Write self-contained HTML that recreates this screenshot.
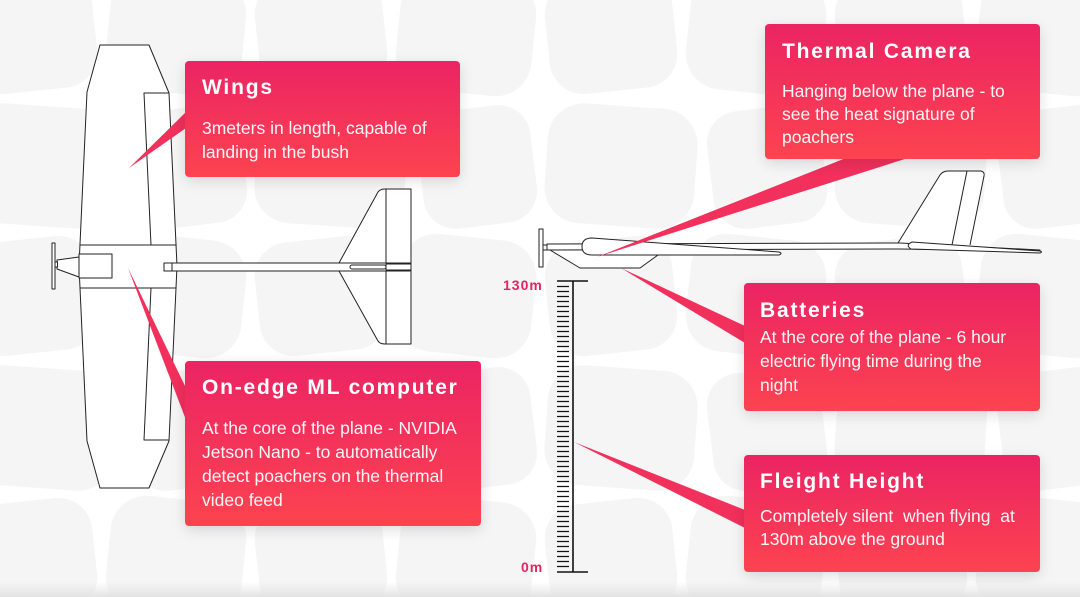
<!DOCTYPE html>
<html><head><meta charset="utf-8"><style>
html,body{margin:0;padding:0;}
body{width:1080px;height:597px;position:relative;overflow:hidden;background:#fff;font-family:"Liberation Sans",Arial,sans-serif;}
svg{position:absolute;left:0;top:0;}
.box{position:absolute;border-radius:4px;background:linear-gradient(to bottom,#eb2463,#fd4350);box-shadow:0 4px 14px rgba(0,0,0,0.13);color:#fff;}
.t{position:absolute;font-weight:bold;font-size:21px;line-height:24px;letter-spacing:1.8px;white-space:nowrap;}
.b{position:absolute;font-size:17.5px;line-height:24px;white-space:nowrap;color:#fff5f6;}
.lbl{position:absolute;font-weight:bold;font-size:14px;letter-spacing:1px;color:#e6245f;line-height:14px;}
</style></head><body>
<svg width="1080" height="597" viewBox="0 0 1080 597">
<defs>
<pattern id="g" width="290" height="262" patternUnits="userSpaceOnUse" x="-40" y="-30">
<rect width="290" height="262" fill="#fff"/>
<rect x="7" y="7" width="128" height="114" rx="34" fill="#f5f5f6" transform="rotate(-6 71 64)"/>
<rect x="148" y="5" width="136" height="118" rx="36" fill="#f5f5f6" transform="rotate(6 216 64)"/>
<rect x="6" y="136" width="150" height="120" rx="36" fill="#f5f5f6" transform="rotate(4 81 196)"/>
<rect x="170" y="138" width="114" height="118" rx="32" fill="#f5f5f6" transform="rotate(-7 227 197)"/>
</pattern>
<linearGradient id="bot" x1="0" y1="0" x2="0" y2="1"><stop offset="0" stop-color="#e6e6e6" stop-opacity="0"/><stop offset="1" stop-color="#e2e2e2"/></linearGradient>
</defs>
<rect width="1080" height="597" fill="url(#g)"/>
<rect y="582" width="1080" height="15" fill="url(#bot)"/>

<!-- top view plane -->
<g stroke="#222" stroke-width="1" fill="#fff" stroke-linejoin="round">
<polygon points="100,45 149,45 169,93 177,266 169,441 149,488 100,488 87,441 79,266 87,92"/>
<polyline points="169,93 144,93 151,245" fill="none"/>
<polyline points="151,288 144,440 169,440" fill="none"/>
<line x1="79.6" y1="245" x2="176.6" y2="245"/>
<line x1="79.6" y1="288" x2="176.6" y2="288"/>
<rect x="79" y="254" width="33" height="24"/>
<polygon points="79,257 57,260 57,269 79,277"/>
<rect x="55" y="262" width="2.5" height="5"/>
<rect x="52" y="243" width="3" height="46"/>
<path d="M339,263 L378,192 Q380,189 385,189 L411,189 L411,344 L385,344 Q380,344 378,341 L339,271 Z"/>
<line x1="386" y1="189" x2="386" y2="344"/>
<rect x="164" y="263" width="246" height="8"/>
<line x1="172" y1="263" x2="172" y2="271"/>
<rect x="350" y="265" width="36" height="4" rx="2"/>
<rect x="386" y="264" width="25" height="6"/>
</g>

<!-- side view plane -->
<g stroke="#222" stroke-width="1" fill="#fff" stroke-linejoin="round">
<path d="M898,243 L940,175 Q943,171 948,171 L981,171 Q985,172 984,176 L970,245"/>
<line x1="967" y1="171" x2="952" y2="245"/>
<path d="M550,250 L580,268 L640,268 L658,255"/>
<path d="M547,244 L900,243 L1040,250 L1040,251 L900,249 L547,250 Z"/>
<path d="M912,242 Q905,245 911,249 L1040,253 Q1043,252 1040,251 Z"/>
<path d="M592,238 Q582,238 582,246.5 Q582,255 592,255 L779,255 Q783,253.5 779,252 Z"/>
<rect x="543" y="245" width="4" height="5"/>
<rect x="539" y="229" width="4" height="38"/>
</g>

<!-- ruler -->
<g stroke="#111" fill="none">
<line x1="573" y1="281" x2="573" y2="572" stroke-width="1.6"/>
<line x1="557" y1="281" x2="588" y2="281" stroke-width="1.6"/>
<line x1="557" y1="572" x2="588" y2="572" stroke-width="1.6"/>
<path stroke-width="1.3" d="M557,286.5h12M557,291.5h12M557,296.5h12M557,301.5h12M557,306.5h12M557,311.5h12M557,316.5h12M557,321.5h12M557,326.5h12M557,331.5h12M557,336.5h12M557,341.5h12M557,346.5h12M557,351.5h12M557,356.5h12M557,361.5h12M557,366.5h12M557,371.5h12M557,376.5h12M557,381.5h12M557,386.5h12M557,391.5h12M557,396.5h12M557,401.5h12M557,406.5h12M557,411.5h12M557,416.5h12M557,421.5h12M557,426.5h12M557,431.5h12M557,436.5h12M557,441.5h12M557,446.5h12M557,451.5h12M557,456.5h12M557,461.5h12M557,466.5h12M557,471.5h12M557,476.5h12M557,481.5h12M557,486.5h12M557,491.5h12M557,496.5h12M557,501.5h12M557,506.5h12M557,511.5h12M557,516.5h12M557,521.5h12M557,526.5h12M557,531.5h12M557,536.5h12M557,541.5h12M557,546.5h12M557,551.5h12M557,556.5h12M557,561.5h12M557,566.5h12"/>
</g>

<!-- pointers -->
<g fill="#f1305c">
<polygon points="129,168 186,112 186,128"/>
<polygon points="128,268 186,388 186,420"/>
<polygon points="597,257 846,158 908,158"/>
<polygon points="621,268 745,326 745,343"/>
<polygon points="574,442 745,510 745,528"/>
</g>
</svg>

<div class="lbl" style="left:503px;top:278px;">130m</div>
<div class="lbl" style="left:521px;top:560px;">0m</div>

<div class="box" style="left:185px;top:61px;width:275px;height:116px;">
<div class="t" style="left:17px;top:15px;">Wings</div>
<div class="b" style="left:17px;top:55px;">3meters in length, capable of<br>landing in the bush</div>
</div>

<div class="box" style="left:185px;top:361px;width:296px;height:165px;">
<div class="t" style="left:17px;top:15px;">On-edge ML computer</div>
<div class="b" style="left:17px;top:55px;">At the core of the plane - NVIDIA<br>Jetson Nano - to automatically<br>detect poachers on the thermal<br>video feed</div>
</div>

<div class="box" style="left:765px;top:24px;width:275px;height:135px;">
<div class="t" style="left:17px;top:16px;">Thermal Camera</div>
<div class="b" style="left:17px;top:56px;line-height:23px;">Hanging below the plane - to<br>see the heat signature of<br>poachers</div>
</div>

<div class="box" style="left:744px;top:283px;width:296px;height:128px;">
<div class="t" style="left:16px;top:16px;">Batteries</div>
<div class="b" style="left:16px;top:42px;">At the core of the plane - 6 hour<br>electric flying time during the<br>night</div>
</div>

<div class="box" style="left:744px;top:455px;width:296px;height:117px;">
<div class="t" style="left:16px;top:15px;">Fleight Height</div>
<div class="b" style="left:16px;top:50px;line-height:23px;">Completely silent&nbsp; when flying&nbsp; at<br>130m above the ground</div>
</div>
</body></html>
